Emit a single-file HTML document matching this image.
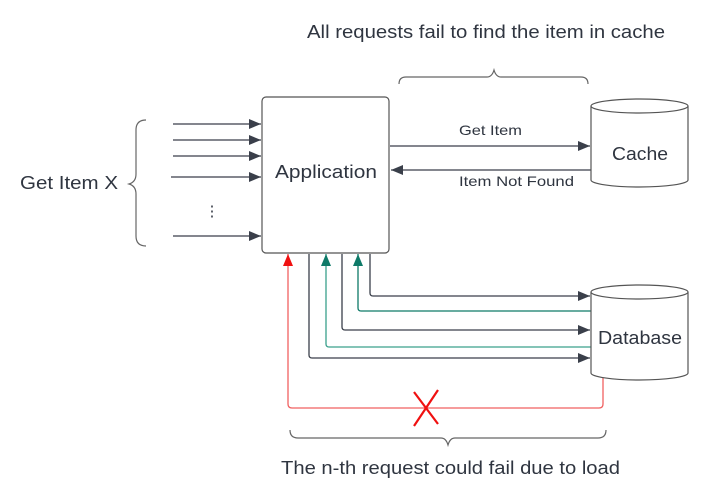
<!DOCTYPE html>
<html><head><meta charset="utf-8"><style>body{margin:0;background:#fff}svg{display:block}text{font-family:"Liberation Sans",sans-serif;fill:#2f3540}</style></head><body>
<svg width="720" height="496" viewBox="0 0 720 496" xmlns="http://www.w3.org/2000/svg">
<defs>
<marker id="ad" markerWidth="12" markerHeight="10" refX="12" refY="5" orient="auto" markerUnits="userSpaceOnUse"><path d="M0,0L12,5L0,10z" fill="#3a3f4a"/></marker>
<marker id="ag" markerWidth="12" markerHeight="10" refX="12" refY="5" orient="auto" markerUnits="userSpaceOnUse"><path d="M0,0L12,5L0,10z" fill="#0e7a68"/></marker>
<marker id="ar" markerWidth="12" markerHeight="10" refX="12" refY="5" orient="auto" markerUnits="userSpaceOnUse"><path d="M0,0L12,5L0,10z" fill="#f01010"/></marker>
</defs>
<text x="307" y="38" font-size="18" textLength="358" lengthAdjust="spacingAndGlyphs">All requests fail to find the item in cache</text>
<path d="M399,84 Q399,77 406,77 L487,77 Q492,77 494,70 Q496,77 501,77 L581,77 Q588,77 588,84" fill="none" stroke="#666" stroke-width="1.2"/>
<text x="20" y="189" font-size="18" textLength="98" lengthAdjust="spacingAndGlyphs">Get Item X</text>
<path d="M146,120 Q136,120 136,130 L136,174 Q136,182 129,184 Q136,186 136,194 L136,236 Q136,246 146,246" fill="none" stroke="#666" stroke-width="1.2"/>
<g stroke="#3a3f4a" stroke-width="1.3" marker-end="url(#ad)">
<line x1="173" y1="124" x2="261" y2="124"/><line x1="173" y1="140" x2="261" y2="140"/><line x1="173" y1="156" x2="261" y2="156"/><line x1="171" y1="177" x2="261" y2="177"/><line x1="173" y1="236" x2="261" y2="236"/>
<line x1="390" y1="146" x2="590" y2="146"/><line x1="591" y1="170" x2="391" y2="170"/>
</g>
<text x="212" y="216" font-size="15" text-anchor="middle">⋮</text>
<rect x="262" y="97" width="127" height="156" rx="4" fill="#fff" stroke="#555" stroke-width="1.2"/>
<text x="275" y="178" font-size="18" textLength="102" lengthAdjust="spacingAndGlyphs">Application</text>
<text x="459" y="135" font-size="14" textLength="63" lengthAdjust="spacingAndGlyphs">Get Item</text>
<text x="459" y="186" font-size="14" textLength="115" lengthAdjust="spacingAndGlyphs">Item Not Found</text>
<path d="M591,106 L591,180 A48.5,7 0 0 0 688,180 L688,106" fill="#fff" stroke="#555" stroke-width="1.2"/>
<ellipse cx="639.5" cy="106" rx="48.5" ry="7" fill="#fff" stroke="#555" stroke-width="1.2"/>
<text x="612" y="160" font-size="18" textLength="56" lengthAdjust="spacingAndGlyphs">Cache</text>
<g fill="none" stroke-width="1.3">
<path d="M370,254 L370,293 Q370,296 373,296 L590,296" stroke="#3a3f4a" marker-end="url(#ad)"/>
<path d="M342,254 L342,327 Q342,330 345,330 L590,330" stroke="#3a3f4a" marker-end="url(#ad)"/>
<path d="M309,254 L309,355 Q309,358 312,358 L590,358" stroke="#3a3f4a" marker-end="url(#ad)"/>
<path d="M591,311 L361,311 Q358,311 358,308 L358,254" stroke="#0e7a68" marker-end="url(#ag)"/>
<path d="M591,347 L329,347 Q326,347 326,344 L326,254" stroke="#3aa08c" marker-end="url(#ag)"/>
<path d="M603,376 L603,404 Q603,408 599,408 L292,408 Q288,408 288,404 L288,254" stroke="#f06060" marker-end="url(#ar)"/>
</g>
<path d="M591,292 L591,373 A48.5,7 0 0 0 688,373 L688,292" fill="#fff" stroke="#555" stroke-width="1.2"/>
<ellipse cx="639.5" cy="292" rx="48.5" ry="7" fill="#fff" stroke="#555" stroke-width="1.2"/>
<text x="598" y="344" font-size="18" textLength="84" lengthAdjust="spacingAndGlyphs">Database</text>
<path d="M414,392 L438,424 M438,390 L414,426" stroke="#f01010" stroke-width="2.2"/>
<path d="M290,430 Q290,438 298,438 L441,438 Q446,438 448,445 Q450,438 455,438 L598,438 Q606,438 606,430" fill="none" stroke="#666" stroke-width="1.2"/>
<text x="281" y="474" font-size="18" textLength="339" lengthAdjust="spacingAndGlyphs">The n-th request could fail due to load</text>
</svg>
</body></html>
